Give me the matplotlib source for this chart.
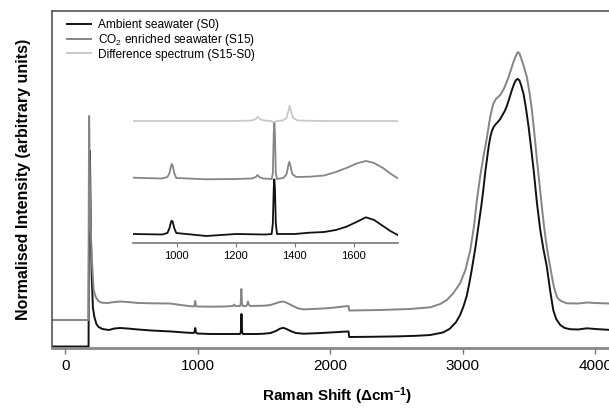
import matplotlib
matplotlib.use('Agg')
import matplotlib.pyplot as plt

plt.rcParams['font.family'] = ['Liberation Sans', 'DejaVu Sans']
plt.rcParams['mathtext.fontset'] = 'custom'
plt.rcParams['mathtext.rm'] = 'Liberation Sans'
plt.rcParams['mathtext.bf'] = 'Liberation Sans:bold'
plt.rcParams['mathtext.default'] = 'regular'

# main spectra (arbitrary units)
s0_x = [-100, 176, 177, 181, 184, 186, 189, 193, 200, 209, 220, 235, 252, 280, 330, 370, 415, 470,
        550, 650, 800, 900, 965, 975, 981, 987, 997, 1100, 1200, 1318, 1325, 1330, 1335, 1342,
        1450, 1500, 1550, 1590, 1620, 1645, 1670, 1700, 1740, 1800, 1900, 2000, 2100, 2138, 2143,
        2300, 2500, 2650, 2755, 2850, 2900, 2950, 2980, 3004, 3030, 3050, 3065, 3080, 3095, 3110,
        3125, 3140, 3155, 3170, 3182, 3195, 3208, 3220, 3233, 3250, 3265, 3283, 3300, 3317, 3333,
        3350, 3371, 3390, 3405, 3416, 3428, 3440, 3459, 3478, 3497, 3516, 3535, 3560, 3585, 3610,
        3635, 3660, 3683, 3705, 3736, 3770, 3811, 3870, 3937, 4000, 4100, 4200]
s0_y = [1.5, 1.5, 60, 150, 190, 197, 165, 115, 70, 40, 31, 24, 21, 19, 18, 19.5, 20, 19.5,
        18.5, 17.5, 16.5, 15.5, 15, 15.5, 20, 15.5, 14.5, 14, 14, 14, 15.5, 34, 15.5, 14,
        14, 14.3, 15, 17, 19.3, 20.2, 19, 17, 15, 14.3, 14.8, 15.5, 16.3, 16.5, 11,
        11.2, 11.6, 12.2, 13, 15.5, 19, 26, 33, 41, 52, 65, 76, 88, 100, 114,
        128, 142, 158, 176, 188, 201, 211, 217, 221, 224, 226, 229, 233, 237, 242,
        249, 258, 265, 268.5, 269, 267.5, 263, 254, 239, 221, 200, 178, 145, 118, 98,
        81, 57, 38, 29, 23, 20, 18.8, 18.5, 19.7, 19, 18.2, 18]

s15_x = [-100, 176, 177, 180, 183, 187, 192, 201, 214, 230, 250, 275, 320, 360, 415, 470, 550, 650,
         790, 900, 965, 975, 981, 987, 997, 1100, 1200, 1265, 1275, 1285, 1318, 1324, 1329, 1334,
         1340, 1365, 1374, 1379, 1385, 1395, 1450, 1500, 1550, 1590, 1620, 1647, 1675, 1710, 1760,
         1800, 1900, 2000, 2100, 2138, 2143, 2377, 2600, 2755, 2830, 2880, 2930, 2981, 3020, 3057,
         3085, 3107, 3132, 3157, 3182, 3208, 3230, 3250, 3283, 3310, 3346, 3380, 3400, 3416, 3430,
         3440, 3460, 3484, 3503, 3522, 3541, 3560, 3580, 3598, 3615, 3630, 3645, 3660, 3675, 3690,
         3711, 3730, 3750, 3786, 3870, 3937, 4000, 4200]
s15_y = [28, 28, 120, 232, 200, 160, 120, 88, 58, 51, 47, 45.3, 45, 45.8, 46.5, 46, 45, 44.7,
         44.5, 42.5, 41.5, 42, 47, 42, 41.5, 41.3, 41.5, 42, 43.5, 42, 42, 44, 59, 44,
         42, 42, 43.5, 46.5, 43.5, 42, 42.2, 42.3, 43, 44.8, 46, 46.5, 45, 42.5, 39.5,
         38.6, 39.2, 40, 41.5, 42, 37.5, 38, 39, 40.7, 44, 48, 55, 65, 78, 98,
         122, 148, 172, 192, 210, 232, 244, 249, 253, 259, 271, 285, 292, 296, 294,
         290, 282, 271, 256, 238, 214, 188, 163, 140, 120, 105, 92, 81, 70, 60,
         51, 48, 46.5, 44.7, 44.5, 45.5, 45, 44]

# inset (850-1750 cm-1)
ins0_x = [850, 950, 968, 975, 980, 983, 986, 991, 998, 1100, 1200, 1300, 1322, 1326, 1329,
          1331, 1333, 1336, 1340, 1400, 1450, 1500, 1540, 1576, 1610, 1642, 1670, 1700, 1725, 1750]
ins0_y = [9, 8.5, 10, 15, 21, 22.3, 21, 15, 10, 7, 9, 8.5, 9, 20, 55,
          63.7, 55, 20, 9, 9, 10.3, 11, 13, 16.3, 21, 25.7, 23, 17, 12, 8]

ins15_x = [850, 950, 968, 975, 980, 983, 986, 991, 998, 1100, 1200, 1255, 1268, 1274, 1280,
           1293, 1322, 1326, 1329, 1331, 1333, 1336, 1340, 1362, 1373, 1378, 1382, 1386, 1392,
           1405, 1450, 1500, 1540, 1580, 1610, 1642, 1670, 1700, 1725, 1750]
ins15_y = [65.3, 64.5, 66, 70, 77, 79, 77, 70, 65, 63.7, 64, 64.5, 66, 68, 66,
           64.5, 64, 70, 110, 119.7, 110, 70, 64, 65, 69, 77, 81.3, 77, 69,
           66, 66.3, 67.5, 71, 75.5, 79.5, 82, 80, 75, 69.5, 64.7]

diff_x = [850, 1000, 1200, 1255, 1268, 1275, 1282, 1295, 1320, 1330, 1340, 1360, 1372, 1378,
          1383, 1388, 1395, 1410, 1500, 1750]
diff_y = [122, 122, 122, 122.5, 124, 126.3, 124, 122.5, 122, 120.5, 122, 122.5, 125, 131,
          137.3, 131, 125, 122.5, 122, 122]

labels = ['Ambient seawater (S0)', 'CO$_2$ enriched seawater (S15)', 'Difference spectrum (S15-S0)']
colors = ['#111111', '#858585', '#c9c9c9']

fig = plt.figure(figsize=(6.09, 4.13), dpi=100)
ax = fig.add_axes([52 / 609, 65 / 413, 4300 * 0.1325 / 609, 337 / 413])

ax.plot(s0_x, s0_y, color=colors[0], lw=1.4, label=labels[0])
ax.plot(s15_x, s15_y, color=colors[1], lw=1.4, label=labels[1])
ax.plot([], [], color=colors[2], lw=1.4, label=labels[2])

ax.set_xlim(-100, 4200)
ax.set_ylim(0, 337)
ax.set_xticks([0, 1000, 2000, 3000, 4000])
ax.set_yticks([])
ax.tick_params(axis='x', direction='out', length=4, width=1, color='#777777',
               labelsize=11, pad=4)
for side in ['top', 'left', 'right']:
    ax.spines[side].set_color('#555555')
    ax.spines[side].set_linewidth(1.2)
ax.spines['bottom'].set_color('#888888')
ax.spines['bottom'].set_linewidth(2)

ax.set_xlabel('Raman Shift (\u0394cm$^{\\mathbf{-1}}$)', fontsize=11, fontweight='bold', labelpad=9)
ax.set_ylabel('Normalised Intensity (arbitrary units)', fontsize=11.5, fontweight='bold', labelpad=15)

ax.legend(loc='upper left', frameon=False, fontsize=8.6, handlelength=2.0, handletextpad=0.6,
          labelspacing=0.05, borderaxespad=0.3, bbox_to_anchor=(0.012, 1.0))

# inset
ins = fig.add_axes([132.7 / 609, (413 - 243) / 413, 265 / 609, 148 / 413])
ins.plot(diff_x, diff_y, color=colors[2], lw=1.3)
ins.plot(ins15_x, ins15_y, color=colors[1], lw=1.3)
ins.plot(ins0_x, ins0_y, color=colors[0], lw=1.3)
ins.set_xlim(850, 1750)
ins.set_ylim(0, 148)
ins.set_xticks([1000, 1200, 1400, 1600])
ins.set_yticks([])
ins.patch.set_alpha(0)
for side in ['top', 'left', 'right']:
    ins.spines[side].set_visible(False)
ins.spines['bottom'].set_color('#777777')
ins.spines['bottom'].set_linewidth(1.2)
ins.tick_params(axis='x', direction='out', length=3, color='#777777', labelsize=8, pad=3)

fig.savefig('out.png', dpi=100)
